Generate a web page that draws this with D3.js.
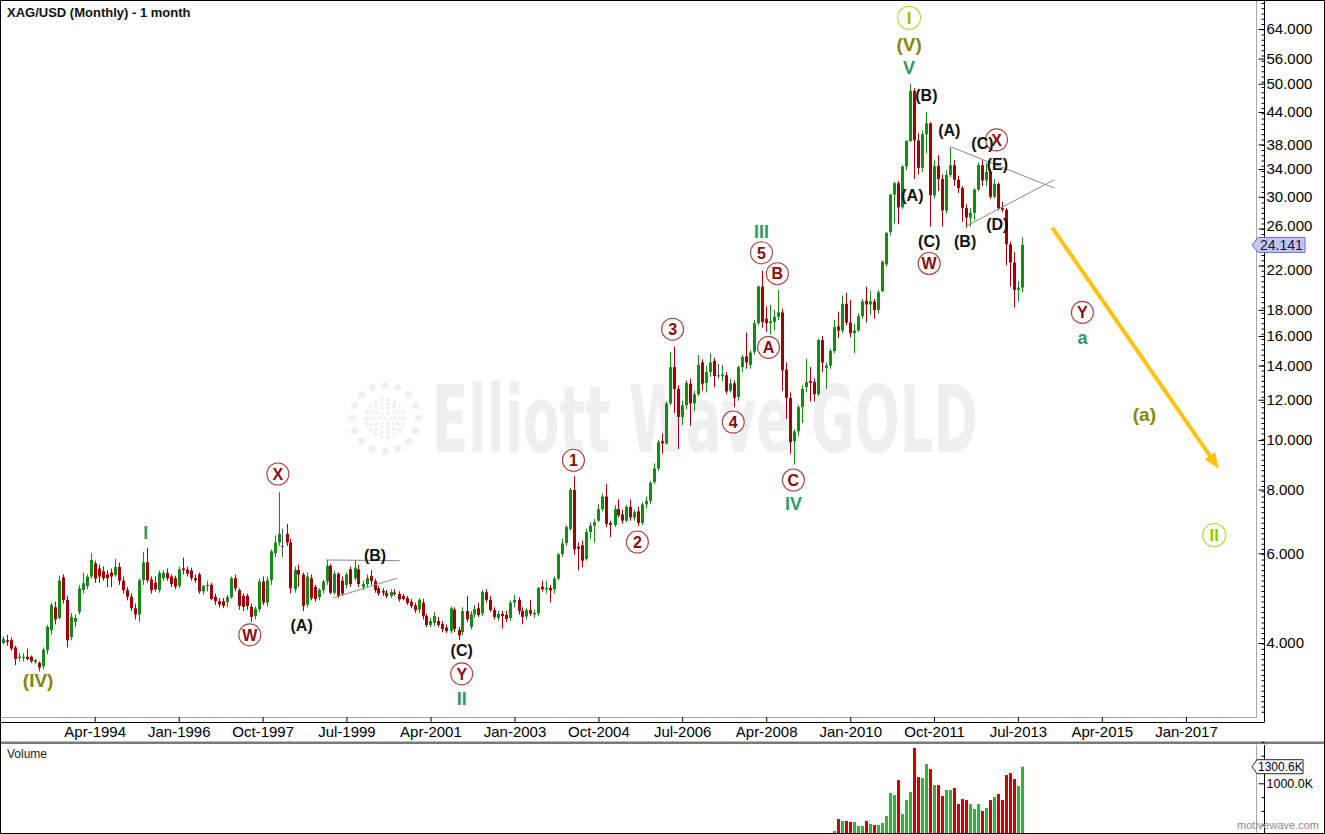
<!DOCTYPE html>
<html>
<head>
<meta charset="utf-8">
<script src="https://cdn.jsdelivr.net/npm/d3@7/dist/d3.min.js"></script>
<style>
html,body{margin:0;padding:0;background:#fff;}
svg{display:block;}
</style>
</head>
<body>
<svg id="chart" width="1325" height="834"></svg>
<script>
// ================= DATA =================
const chartTitle = "XAG/USD (Monthly) - 1 month";
const firstCandle = "1992-05";
// [open, high, low, close] per month
const ohlc1992 = [[4.00,4.12,3.98,4.07],[4.05,4.15,3.95,4.02],[4.05,4.10,3.86,3.90],[3.92,3.95,3.62,3.72],[3.74,3.82,3.68,3.76],[3.74,3.82,3.68,3.76],[3.76,3.90,3.70,3.72],[3.76,3.78,3.66,3.68]];
const ohlc1993 = [[3.67,3.72,3.64,3.70],[3.66,3.68,3.52,3.58],[3.60,3.92,3.55,3.88],[3.87,4.34,3.80,4.30],[4.24,4.80,4.15,4.75],[4.70,4.82,4.35,4.45],[4.48,5.42,4.45,5.30],[5.38,5.45,4.78,4.86],[4.86,4.95,3.92,4.05],[4.11,4.58,4.05,4.50],[4.40,4.55,4.30,4.48],[4.60,5.20,4.55,5.12]];
const ohlc1994 = [[5.08,5.50,5.00,5.24],[5.17,5.45,5.10,5.40],[5.40,6.00,5.35,5.82],[5.73,5.80,5.25,5.35],[5.60,5.70,5.25,5.40],[5.53,5.65,5.30,5.36],[5.45,5.55,5.15,5.36],[5.50,5.60,5.15,5.40],[5.44,5.85,5.40,5.64],[5.64,5.75,5.20,5.30],[5.30,5.40,5.00,5.08],[5.08,5.15,4.85,4.93]];
const ohlc1995 = [[4.93,5.00,4.62,4.68],[4.68,4.78,4.45,4.55],[4.55,5.35,4.40,5.31],[5.31,6.04,5.20,5.76],[5.76,6.15,5.25,5.31],[5.33,5.40,5.00,5.08],[5.25,5.40,5.05,5.10],[5.08,5.55,5.02,5.49],[5.36,5.55,5.30,5.49],[5.49,5.60,5.30,5.36],[5.40,5.45,5.15,5.22],[5.36,5.42,5.10,5.16]];
const ohlc1996 = [[5.18,5.65,5.12,5.58],[5.60,5.88,5.45,5.56],[5.57,5.65,5.40,5.47],[5.55,5.62,5.30,5.36],[5.36,5.45,5.25,5.31],[5.45,5.50,5.00,5.05],[5.05,5.20,4.98,5.17],[5.17,5.30,5.05,5.20],[5.20,5.25,4.85,4.88],[4.93,5.00,4.75,4.83],[4.83,4.90,4.70,4.76],[4.83,4.90,4.68,4.73]];
const ohlc1997 = [[4.81,4.97,4.70,4.92],[4.92,5.40,4.88,5.36],[5.36,5.45,5.05,5.12],[5.08,5.12,4.65,4.73],[4.95,5.00,4.62,4.71],[4.95,5.00,4.65,4.73],[4.71,4.78,4.40,4.50],[4.52,4.72,4.45,4.67],[4.66,5.35,4.60,5.28],[5.28,5.40,4.75,4.80],[4.80,5.40,4.72,5.31],[5.31,6.10,5.20,6.05]];
const ohlc1998 = [[6.00,6.50,5.90,6.30],[6.30,7.90,6.20,6.55],[6.20,6.70,5.90,6.20],[6.55,6.85,6.20,6.30],[6.30,6.40,5.00,5.12],[5.10,5.65,5.02,5.56],[5.56,5.70,5.15,5.45],[5.45,5.50,4.62,4.73],[4.76,5.50,4.70,5.40],[5.36,5.45,4.85,4.90],[5.15,5.20,4.82,4.88],[4.92,5.12,4.85,5.08]];
const ohlc1999 = [[5.08,5.32,5.00,5.28],[5.28,5.82,5.20,5.67],[5.67,5.72,4.98,5.02],[5.02,5.55,4.98,5.47],[5.47,5.50,4.90,4.95],[5.30,5.40,4.95,5.00],[5.20,5.50,5.12,5.45],[5.58,5.65,5.15,5.22],[5.36,5.82,5.30,5.62],[5.58,5.70,5.15,5.22],[5.15,5.30,5.08,5.22],[5.22,5.45,5.15,5.36]];
const ohlc2000 = [[5.41,5.56,5.20,5.29],[5.29,5.35,5.02,5.08],[5.12,5.18,4.95,5.00],[5.06,5.12,4.95,5.02],[5.02,5.08,4.90,4.95],[4.95,5.10,4.90,5.04],[5.02,5.10,4.95,4.99],[4.99,5.05,4.82,4.87],[4.95,5.00,4.85,4.88],[4.90,4.95,4.75,4.79],[4.82,4.88,4.68,4.73],[4.74,4.80,4.58,4.64]];
const ohlc2001 = [[4.65,4.90,4.58,4.86],[4.80,4.88,4.45,4.52],[4.52,4.56,4.30,4.34],[4.34,4.48,4.30,4.42],[4.38,4.60,4.32,4.52],[4.42,4.50,4.30,4.34],[4.36,4.42,4.20,4.26],[4.29,4.35,4.18,4.22],[4.22,4.72,4.18,4.68],[4.65,4.70,4.20,4.26],[4.24,4.30,4.05,4.14],[4.20,4.70,4.15,4.62]];
const ohlc2002 = [[4.62,4.95,4.40,4.45],[4.30,4.62,4.25,4.55],[4.55,4.75,4.48,4.66],[4.68,4.80,4.50,4.54],[4.57,5.08,4.52,5.04],[5.03,5.10,4.80,4.86],[4.86,4.95,4.60,4.64],[4.64,4.70,4.45,4.50],[4.48,4.62,4.42,4.56],[4.56,4.62,4.27,4.52],[4.54,4.62,4.40,4.46],[4.48,4.85,4.42,4.80]];
const ohlc2003 = [[4.80,4.97,4.70,4.86],[4.86,4.92,4.55,4.62],[4.62,4.70,4.35,4.50],[4.51,4.68,4.45,4.64],[4.64,4.86,4.52,4.57],[4.55,4.65,4.48,4.58],[4.57,5.15,4.52,5.13],[5.16,5.30,5.05,5.10],[5.10,5.30,5.00,5.13],[5.13,5.20,4.80,5.07],[5.10,5.40,5.00,5.35],[5.35,6.00,5.30,5.97]];
const ohlc2004 = [[5.98,6.40,5.90,6.27],[6.28,6.80,6.20,6.75],[6.70,8.05,6.65,7.98],[7.98,8.50,5.95,6.10],[6.18,6.30,5.55,6.12],[6.22,6.35,5.63,5.80],[5.85,6.70,5.80,6.60],[6.60,6.90,6.40,6.80],[6.80,7.00,6.30,6.90],[6.95,7.50,6.90,7.32],[7.32,7.85,7.25,7.75],[7.75,8.20,6.75,6.85]];
const ohlc2005 = [[6.88,6.95,6.45,6.82],[6.82,7.45,6.75,7.32],[7.32,7.65,7.05,7.12],[7.15,7.30,6.85,6.95],[6.95,7.45,6.90,7.40],[7.40,7.65,6.95,7.05],[7.05,7.30,6.95,7.22],[7.25,7.40,6.78,6.88],[6.88,7.55,6.82,7.48],[7.48,7.75,7.35,7.60],[7.60,8.30,7.50,8.25],[8.27,9.00,8.20,8.80]];
const ohlc2006 = [[8.80,10.00,8.70,9.90],[9.95,10.30,9.40,9.85],[9.85,11.90,9.80,11.80],[11.80,14.90,11.70,13.90],[13.90,15.25,11.30,12.60],[12.60,12.80,9.60,11.10],[11.10,11.95,10.70,11.70],[11.70,13.10,11.50,12.95],[12.90,13.20,10.66,11.80],[11.80,12.50,11.40,12.30],[12.30,14.70,12.20,14.05],[14.20,14.40,12.50,12.90]];
const ohlc2007 = [[12.95,14.00,12.40,13.60],[13.60,14.80,13.30,14.20],[14.30,14.50,12.70,13.35],[13.40,14.10,13.20,13.40],[13.35,14.05,13.05,13.45],[13.40,13.60,12.30,12.45],[12.50,13.20,12.40,12.92],[12.92,13.10,11.60,12.10],[12.15,14.00,11.95,13.90],[13.90,14.70,13.60,14.55],[14.60,16.25,13.80,14.20],[14.05,15.00,13.80,14.85]];
const ohlc2008 = [[14.90,17.20,14.70,16.95],[16.95,20.10,16.80,20.00],[20.00,21.50,16.60,17.05],[17.30,18.30,16.30,16.95],[16.95,18.40,16.10,17.10],[17.05,18.00,16.40,17.45],[17.45,19.70,17.20,17.80],[17.80,18.10,12.50,13.70],[13.75,14.20,11.00,12.10],[12.10,12.40,9.40,9.90],[9.95,10.50,8.95,10.40],[10.40,11.70,10.20,11.60]];
const ohlc2009 = [[11.60,12.80,10.80,12.60],[12.70,14.45,12.40,13.00],[13.05,13.90,11.90,12.95],[13.00,13.20,11.90,12.30],[12.30,15.80,12.20,15.70],[15.70,16.00,13.60,14.20],[13.85,14.20,12.60,14.00],[14.00,15.10,13.80,14.95],[14.95,17.20,14.80,16.65],[16.70,17.85,15.85,16.40],[16.40,19.20,16.20,18.50],[18.50,19.45,16.80,17.00]];
const ohlc2010 = [[17.00,18.85,15.90,16.20],[16.20,16.90,14.80,16.40],[16.40,17.70,16.30,17.50],[17.50,18.90,17.30,18.70],[18.75,20.00,17.00,18.45],[18.45,19.60,17.60,18.70],[18.70,18.90,17.30,18.00],[18.00,19.70,17.70,19.50],[19.60,22.50,19.50,22.40],[22.10,25.60,21.90,25.50],[25.60,30.40,25.20,30.30],[30.30,32.10,26.60,31.90]];
const ohlc2011 = [[31.90,32.20,26.50,28.60],[28.60,34.60,28.40,34.40],[34.40,38.70,33.80,38.60],[38.60,50.00,38.40,48.40],[48.40,49.00,32.50,38.70],[38.70,40.00,33.20,34.20],[34.20,40.50,33.50,39.80],[39.80,44.00,36.50,41.80],[41.80,42.00,26.20,30.20],[30.20,35.50,29.80,34.50],[34.50,36.20,30.80,32.50],[32.50,33.20,26.20,28.20]];
const ohlc2012 = [[28.20,33.80,27.80,33.10],[33.10,37.50,32.80,34.60],[34.60,35.40,31.50,32.40],[32.40,33.00,30.50,31.20],[31.20,31.50,26.80,28.50],[28.50,29.00,26.10,27.30],[27.30,28.50,26.20,27.90],[27.90,31.20,27.00,31.00],[31.00,35.00,30.80,34.60],[34.60,35.40,31.50,32.30],[32.30,34.90,31.50,33.60],[33.60,34.00,29.70,30.00]];
const ohlc2013 = [[30.00,32.50,29.80,31.80],[31.80,32.00,28.20,28.50],[28.50,29.30,28.00,28.30],[28.30,28.50,22.00,24.20],[24.20,24.50,20.00,22.30],[22.30,23.40,18.20,19.70],[19.70,20.50,18.70,19.90],[19.90,25.00,19.50,24.141]];

const volumeFirst = "2009-09";
const volumeK = [136,353,317,317,299,299,226,226,317,262,244,244,281,407,824,787,1058,443,696,842,1643,1113,1095,1348,1258,968,968,769,878,878,914,624,715,696,624,534,624,498,552,696,751,805,696,1150,1186,1077,950,1300.6];

const priceTicks = [4,6,8,10,12,14,16,18,22,26,30,34,38,44,50,56,64];
const dateTicks = ["1994-04","1996-01","1997-10","1999-07","2001-04","2003-01","2004-10","2006-07","2008-04","2010-01","2011-10","2013-07","2015-04","2017-01"];
const volumeTicks = [1000];
const lastPrice = 24.141;
const lastVolumeK = 1300.6;

// wave labels: [text, date, price]
const circledLabels = [["X","1998-01-25",8.58],["W","1997-06-25",4.15],["Y","2001-11-25",3.48],["1","2004-03-25",9.13],["2","2005-07-25",6.31],["3","2006-04-19",16.5],["4","2007-07-25",10.85],["5","2008-02-25",23.3],["A","2008-04-19",15.2],["B","2008-06-25",21.2],["C","2008-10-25",8.35],["W","2011-08-25",22.2],["X","2013-01-19",38.8],["Y","2014-11-04",17.8]];
const blackLabels = [["(B)","2000-02-04",5.95],["(A)","1998-07-25",4.34],["(C)","2001-11-25",3.87],["(B)","2011-08-04",47.5],["(A)","2012-01-25",40.6],["(A)","2011-04-19",30.2],["(C)","2011-08-25",24.5],["(B)","2012-05-25",24.5],["(C)","2012-10-04",38.2],["(E)","2013-01-25",34.8],["(D)","2013-01-25",26.5]];
const greenLabels = [["I","1995-04-25",6.60],["II","2001-11-25",3.12],["III","2008-02-25",25.6],["IV","2008-10-25",7.52],["V","2011-03-25",53.9],["a","2014-11-04",15.9]];
const oliveLabels = [["(IV)","1993-01-25",3.38],["(V)","2011-03-25",59.8],["(a)","2016-02-19",11.25]];
const primaryLabels = [["I","2011-03-25",67.3],["II","2017-08-04",6.51]];
const trendLines = [
  [["1999-01-25",5.82],["2000-08-10",5.80]],
  [["1999-03-19",4.90],["2000-07-19",5.36]],
  [["2012-02-04",37.6],["2014-04-04",31.2]],
  [["2012-06-04",26.3],["2014-04-04",32.4]]
];
const forecastArrow = [["2014-03-19",26.1],["2017-08-19",8.94]];

// ================= RENDER =================
const W = 1325, H = 834;
const FONT = "'Liberation Sans', Arial, Helvetica, sans-serif";
const UP = "#158a15", DOWN = "#a00000", DOJI = "#555555";
const VUP = "#2fb52f", VDOWN = "#cc0000";
const plotRight = 1256, plotBottom = 717, axisX = 1264, xAxisY = 722.5;
const volTop = 745, volBottom = 833;

const parseMonth = d3.timeParse("%Y-%m");
const parseDay = d3.timeParse("%Y-%m-%d");

const x = d3.scaleTime().domain([parseMonth("1994-04"), parseMonth("2017-01")]).range([94.7, 1186]);
const y = d3.scaleLog().domain([4, 64]).range([643, 29]);
const yv = d3.scaleLinear().domain([0, 1000]).range([838.5, 783.3]);

const svg = d3.select("#chart");
svg.append("rect").attr("width", W).attr("height", H).attr("fill", "#fff");

const defs = svg.append("defs");
defs.append("clipPath").attr("id", "clipMain").append("rect")
  .attr("x", 1).attr("y", 1).attr("width", plotRight - 1).attr("height", plotBottom - 1);
defs.append("clipPath").attr("id", "clipVol").append("rect")
  .attr("x", 1).attr("y", volTop).attr("width", plotRight - 1).attr("height", volBottom - volTop);
defs.append("marker").attr("id", "arrowHead").attr("viewBox", "0 0 10 10")
  .attr("refX", 7).attr("refY", 5).attr("markerWidth", 4).attr("markerHeight", 4)
  .attr("orient", "auto").attr("markerUnits", "strokeWidth")
  .append("path").attr("d", "M0,1 L10,5 L0,9 Z").attr("fill", "#ffc20e");

// ---- watermark ----
const wm = svg.append("g").attr("fill", "#efefef");
const wmText = wm.append("text")
  .attr("font-family", "'Liberation Sans Narrow','DejaVu Sans Condensed','Liberation Sans',sans-serif")
  .attr("font-weight", "bold").attr("font-size", 92)
  .text("Elliott Wave GOLD");
const wmLen = wmText.node().getComputedTextLength() || 546;
wmText.attr("transform", `translate(432,452) scale(${546 / wmLen},1)`);
const logoC = [385, 418];
[[33, 16, 3.6], [19, 18, 1.9], [14.5, 14, 1.8], [10, 10, 1.7], [5.5, 6, 1.6]].forEach(([r, n, dr]) => {
  for (let k = 0; k < n; k++) {
    const a = (k / n) * 2 * Math.PI;
    wm.append("circle").attr("cx", logoC[0] + r * Math.cos(a)).attr("cy", logoC[1] + r * Math.sin(a)).attr("r", dr);
  }
});
wm.append("circle").attr("cx", logoC[0]).attr("cy", logoC[1]).attr("r", 1.8);

// ---- candles ----
const start = parseMonth(firstCandle);
const allOhlc = [].concat(ohlc1992, ohlc1993, ohlc1994, ohlc1995, ohlc1996, ohlc1997, ohlc1998, ohlc1999, ohlc2000,
  ohlc2001, ohlc2002, ohlc2003, ohlc2004, ohlc2005, ohlc2006, ohlc2007, ohlc2008, ohlc2009, ohlc2010, ohlc2011, ohlc2012, ohlc2013);
const candles = allOhlc.map((d, i) => ({ date: d3.timeMonth.offset(start, i), o: d[0], h: d[1], l: d[2], c: d[3] }));
const colorOf = d => d.c > d.o ? UP : (d.c < d.o ? DOWN : DOJI);
const cx = d => Math.round(x(d.date));

const gMain = svg.append("g").attr("clip-path", "url(#clipMain)");
gMain.selectAll("line.wick").data(candles).join("line").attr("class", "wick")
  .attr("x1", d => cx(d) + 0.5).attr("x2", d => cx(d) + 0.5)
  .attr("y1", d => y(d.h)).attr("y2", d => y(d.l))
  .attr("stroke", colorOf).attr("stroke-width", 1);
gMain.selectAll("rect.body").data(candles).join("rect").attr("class", "body")
  .attr("x", d => cx(d) - 1).attr("width", 3)
  .attr("y", d => y(Math.max(d.o, d.c)))
  .attr("height", d => Math.max(1, Math.abs(y(d.o) - y(d.c))))
  .attr("fill", colorOf);

// ---- trend lines ----
gMain.selectAll("line.trend").data(trendLines).join("line").attr("class", "trend")
  .attr("x1", d => x(parseDay(d[0][0]))).attr("y1", d => y(d[0][1]))
  .attr("x2", d => x(parseDay(d[1][0]))).attr("y2", d => y(d[1][1]))
  .attr("stroke", "#8a8a8a").attr("stroke-width", 1);

// ---- forecast arrow ----
gMain.append("line")
  .attr("x1", x(parseDay(forecastArrow[0][0]))).attr("y1", y(forecastArrow[0][1]))
  .attr("x2", x(parseDay(forecastArrow[1][0]))).attr("y2", y(forecastArrow[1][1]))
  .attr("stroke", "#ffc20e").attr("stroke-width", 4).attr("marker-end", "url(#arrowHead)");

// ---- labels ----
const gLab = svg.append("g").attr("font-family", FONT).attr("font-weight", "bold").attr("text-anchor", "middle");
function place(sel) {
  return sel.attr("transform", d => `translate(${x(parseDay(d[1]))},${y(d[2])})`);
}
const circ = place(gLab.selectAll("g.circ").data(circledLabels).join("g").attr("class", "circ"));
circ.append("circle").attr("r", 11).attr("fill", "#fff").attr("stroke", "#b04040").attr("stroke-width", 1.1);
circ.append("text").attr("dy", "0.36em").attr("font-size", 16).attr("fill", "#8b0a0a").text(d => d[0]);

const prim = place(gLab.selectAll("g.prim").data(primaryLabels).join("g").attr("class", "prim"));
prim.append("circle").attr("r", 11.5).attr("fill", "#fff").attr("stroke", "#b5d84a").attr("stroke-width", 1.2);
prim.append("text").attr("dy", "0.36em").attr("font-size", 17).attr("fill", "#99c400").text(d => d[0]);

place(gLab.selectAll("text.blk").data(blackLabels).join("text").attr("class", "blk"))
  .attr("dy", "0.36em").attr("font-size", 16).attr("fill", "#111").text(d => d[0]);
place(gLab.selectAll("text.grn").data(greenLabels).join("text").attr("class", "grn"))
  .attr("dy", "0.36em").attr("font-size", 18).attr("fill", "#2e9a6a").text(d => d[0]);
place(gLab.selectAll("text.olv").data(oliveLabels).join("text").attr("class", "olv"))
  .attr("dy", "0.36em").attr("font-size", 19).attr("fill", "#858500").text(d => d[0]);

// ---- frame lines ----
const gF = svg.append("g");
gF.append("line").attr("x1", 0).attr("x2", plotRight).attr("y1", plotBottom + 0.5).attr("y2", plotBottom + 0.5).attr("stroke", "#a8a8a0");
gF.append("line").attr("x1", plotRight + 0.5).attr("x2", plotRight + 0.5).attr("y1", 0).attr("y2", plotBottom + 1).attr("stroke", "#a8a8a0");
gF.append("line").attr("x1", 0).attr("x2", axisX).attr("y1", xAxisY).attr("y2", xAxisY).attr("stroke", "#000");
gF.append("line").attr("x1", axisX + 0.5).attr("x2", axisX + 0.5).attr("y1", 0).attr("y2", xAxisY).attr("stroke", "#000");
// panel separator
gF.append("rect").attr("x", 0).attr("y", 741.5).attr("width", W).attr("height", 2.5).attr("fill", "#7a7a7a");
// volume panel lines
gF.append("line").attr("x1", plotRight + 0.5).attr("x2", plotRight + 0.5).attr("y1", volTop).attr("y2", H).attr("stroke", "#a8a8a0");
gF.append("line").attr("x1", axisX + 0.5).attr("x2", axisX + 0.5).attr("y1", volTop).attr("y2", H).attr("stroke", "#000");

// ---- price axis ----
const gyLab = svg.append("g").attr("transform", `translate(${axisX + 0.5},0)`)
  .call(d3.axisRight(y).tickValues(priceTicks).tickFormat(d3.format(".3f")).tickSize(0).tickPadding(2));
gyLab.select(".domain").remove();
gyLab.selectAll("text").attr("font-family", FONT).attr("font-size", 15).attr("fill", "#000");
gyLab.selectAll(".tick").filter(d => d === 22).select("text").attr("dy", "0.62em");
gyLab.selectAll(".tick").filter(d => d === 26).select("text").attr("dy", "0.12em");
const gyMaj = svg.append("g").attr("transform", `translate(${axisX + 0.5},0)`)
  .call(d3.axisLeft(y).tickValues(priceTicks).tickFormat("").tickSize(6));
gyMaj.select(".domain").remove();
const minorPx = d3.range(3, plotBottom, 5.25);
const gyMin = svg.append("g").attr("transform", `translate(${axisX + 0.5},0)`)
  .call(d3.axisLeft(y).tickValues(minorPx.map(p => y.invert(p))).tickFormat("").tickSize(3));
gyMin.select(".domain").remove();

// ---- date axis ----
const tickDates = dateTicks.map(parseMonth);
const gxLab = svg.append("g").attr("transform", `translate(0,${xAxisY})`)
  .call(d3.axisBottom(x).tickValues(tickDates).tickFormat(d3.timeFormat("%b-%Y")).tickSize(0).tickPadding(4));
gxLab.select(".domain").remove();
gxLab.selectAll("text").attr("font-family", FONT).attr("font-size", 15).attr("fill", "#000");
const gxTk = svg.append("g").attr("transform", `translate(0,${xAxisY})`)
  .call(d3.axisTop(x).tickValues(tickDates).tickFormat("").tickSize(5.5));
gxTk.select(".domain").remove();

// ---- last price tag ----
const yp = y(lastPrice);
const tag = svg.append("g");
tag.append("path")
  .attr("d", `M${axisX - 12},${yp} L${axisX - 6},${yp - 7.5} L${axisX + 41},${yp - 7.5} L${axisX + 41},${yp + 7.5} L${axisX - 6},${yp + 7.5} Z`)
  .attr("fill", "#c4c6f2").attr("stroke", "#6c70b8").attr("stroke-width", 1);
tag.append("text").attr("x", axisX - 4).attr("y", yp).attr("dy", "0.36em")
  .attr("font-family", FONT).attr("font-size", 14).attr("fill", "#10104a").text(d3.format(".3f")(lastPrice));

// ---- volume ----
const vStart = parseMonth(volumeFirst);
const candleByTime = new Map(candles.map(d => [+d.date, d]));
const vols = volumeK.map((v, i) => {
  const date = d3.timeMonth.offset(vStart, i);
  const cd = candleByTime.get(+date);
  return { date, v, up: cd ? cd.c >= cd.o : true };
});
const gVol = svg.append("g").attr("clip-path", "url(#clipVol)");
gVol.selectAll("rect").data(vols).join("rect")
  .attr("x", d => Math.round(x(d.date)) - 1).attr("width", 3)
  .attr("y", d => yv(d.v)).attr("height", d => yv(0) - yv(d.v))
  .attr("fill", d => d.up ? VUP : VDOWN);

const gvLab = svg.append("g").attr("transform", `translate(${axisX + 0.5},0)`)
  .call(d3.axisRight(yv).tickValues(volumeTicks).tickFormat(d => d3.format(".1f")(d) + "K").tickSize(0).tickPadding(2));
gvLab.select(".domain").remove();
gvLab.selectAll("text").attr("font-family", FONT).attr("font-size", 12.5).attr("fill", "#000");
const gvMaj = svg.append("g").attr("transform", `translate(${axisX + 0.5},0)`)
  .call(d3.axisLeft(yv).tickValues(volumeTicks).tickFormat("").tickSize(6));
gvMaj.select(".domain").remove();
const gvMin = svg.append("g").attr("transform", `translate(${axisX + 0.5},0)`)
  .call(d3.axisLeft(yv).tickValues([250, 500, 750, 1250, 1500, 1750]).tickFormat("").tickSize(3));
gvMin.select(".domain").remove();

const yvl = yv(lastVolumeK);
const vtag = svg.append("g");
vtag.append("path")
  .attr("d", `M${axisX - 12},${yvl} L${axisX - 7},${yvl - 7} L${axisX + 39},${yvl - 7} L${axisX + 39},${yvl + 7} L${axisX - 7},${yvl + 7} Z`)
  .attr("fill", "#fff").attr("stroke", "#222").attr("stroke-width", 1);
vtag.append("text").attr("x", axisX - 6).attr("y", yvl).attr("dy", "0.36em")
  .attr("font-family", FONT).attr("font-size", 12).attr("fill", "#000").text(d3.format(".1f")(lastVolumeK) + "K");

// ---- texts ----
svg.append("text").attr("x", 7).attr("y", 17).attr("font-family", FONT).attr("font-weight", "bold")
  .attr("font-size", 13).attr("fill", "#111").text(chartTitle);
svg.append("text").attr("x", 7).attr("y", 758).attr("font-family", FONT)
  .attr("font-size", 12).attr("fill", "#222").text("Volume");
svg.append("text").attr("x", 1319).attr("y", 829).attr("text-anchor", "end").attr("font-family", FONT)
  .attr("font-size", 11).attr("fill", "#8a8a8a").text("motivewave.com");

// outer frame
svg.append("rect").attr("x", 0.5).attr("y", 0.5).attr("width", W - 1).attr("height", H - 1)
  .attr("fill", "none").attr("stroke", "#000").attr("stroke-width", 1);
</script>
</body>
</html>
